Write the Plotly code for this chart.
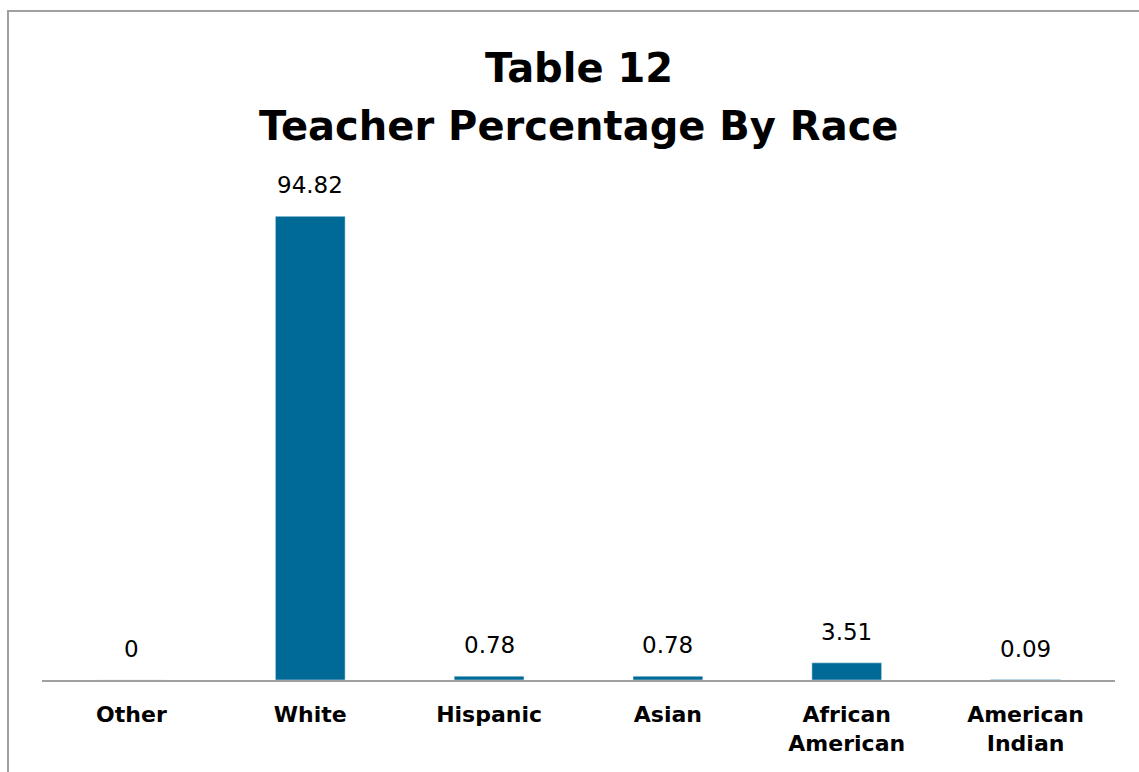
import plotly.graph_objects as go

categories = ["Other", "White", "Hispanic", "Asian", "African<br>American", "American<br>Indian"]
values = [0, 94.82, 0.78, 0.78, 3.51, 0.09]
title_lines = ["Table 12", "Teacher Percentage By Race"]

BAR = "#006A96"
FONT = "DejaVu Sans"

fig = go.Figure()
fig.add_trace(go.Bar(
    x=categories, y=values, marker_color=BAR, width=0.39,
    hoverinfo="x+y", showlegend=False,
))

for c, v in zip(categories, values):
    fig.add_annotation(
        x=c, y=v, text=f"{v:g}", showarrow=False,
        yanchor="middle", yshift=31,
        font=dict(family=FONT, size=23, color="#000000"),
    )

# title lines, placed individually to match line spacing
for line, ypix in zip(title_lines, [68, 126]):
    fig.add_annotation(
        text=f"<b>{line}</b>", xref="paper", yref="paper",
        x=0.5, y=(680 - ypix) / 489, xanchor="center", yanchor="middle",
        showarrow=False,
        font=dict(family=FONT, size=40, color="#000000"),
    )

fig.add_shape(
    type="rect", xref="paper", yref="paper",
    x0=-0.0317, x1=1.1, y0=-0.3, y1=1.368,
    line=dict(color="#A0A0A0", width=2), fillcolor="rgba(0,0,0,0)",
    layer="below",
)

fig.update_layout(
    width=1139, height=772,
    margin=dict(l=42, r=24, t=191, b=92),
    paper_bgcolor="white", plot_bgcolor="white",
    xaxis=dict(
        showline=True, linecolor="#A0A0A0", linewidth=2,
        showgrid=False, zeroline=False, ticks="",
        tickfont=dict(family=FONT, size=22, color="#000000", weight="bold"),
        ticklabelstandoff=14,
    ),
    yaxis=dict(range=[0, 100], visible=False),
    bargap=0.61,
)

fig.write_html("out.html")
